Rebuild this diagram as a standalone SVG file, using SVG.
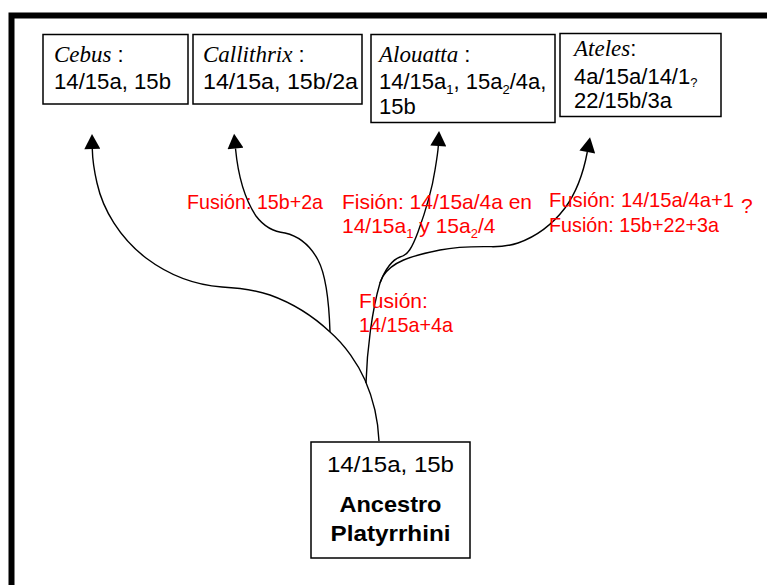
<svg xmlns="http://www.w3.org/2000/svg" width="767" height="585" viewBox="0 0 767 585">
<style>
.box{fill:#fff;stroke:#000;stroke-width:1.5}
.t{font-family:"Liberation Sans",Arial,sans-serif;font-size:22px;fill:#000}
.sp{font-family:"Liberation Serif","Times New Roman",serif;font-style:italic;font-size:23px}
.red{font-family:"Liberation Sans",Arial,sans-serif;font-size:21px;fill:#ff0000}
.sub{font-size:13px}
.b{font-weight:bold}
.edge{fill:none;stroke:#000;stroke-width:1.4}
</style>
<defs>
<marker id="arr" markerUnits="userSpaceOnUse" markerWidth="16" markerHeight="16" viewBox="0 0 14 15" refX="0" refY="7.5" orient="auto">
<path d="M0,0 L14,7.5 L0,15 z" fill="#000"/>
</marker>
</defs>
<rect width="767" height="585" fill="#fff"/>
<path d="M11.5,585 V15.5 H767" fill="none" stroke="#000" stroke-width="6"/>

<g id="connectors">
<path class="edge" marker-end="url(#arr)" d="M379,441 C378,418 372,396 365,380 C358,364 345,345 330,332 C313,316 295,304 270,295 C255,290 240,288 222,287 C195,285 170,276 146,258 C120,238 103,210 97,183 C94,170 92.5,160 92.3,149"/>
<path class="edge" marker-end="url(#arr)" d="M330,332 C329,300 326,275 318,260 C310,245 298,236 285,233 C275,232 265,228 256,216 C244,198 238,175 235.5,148.5"/>
<path class="edge" d="M366,383 C367,350 372,310 380,283 C381,280 382,278 383,276"/>
<path class="edge" marker-end="url(#arr)" d="M380,283 C385,270 392,260 400,257 C408,255 412,248 418,232 C426,210 432,190 435,170 C437,158 438,152 438.3,146"/>
<path class="edge" marker-end="url(#arr)" d="M383,276 C392,262 410,256 440,250 C460,246 480,246.5 493,246.7 C505,246.5 512,245 518,243 C535,237 552,225 565,208 C576,193 583,175 587.3,152"/>
</g>

<g id="cebus">
<rect class="box" x="43" y="34.5" width="145" height="69.5"/>
<text class="t" x="54" y="62"><tspan class="sp">Cebus</tspan> :</text>
<text class="t" x="54" y="89" textLength="117" lengthAdjust="spacingAndGlyphs">14/15a, 15b</text>
</g>

<g id="callithrix">
<rect class="box" x="193" y="34.5" width="169" height="69.5"/>
<text class="t" x="203" y="62"><tspan class="sp">Callithrix</tspan> :</text>
<text class="t" x="203" y="89" textLength="155" lengthAdjust="spacingAndGlyphs">14/15a, 15b/2a</text>
</g>

<g id="alouatta">
<rect class="box" x="371" y="34.5" width="184" height="88"/>
<text class="t" x="379" y="62"><tspan class="sp">Alouatta</tspan> :</text>
<text class="t" x="379" y="88.5">14/15a<tspan class="sub" fill="#000" dy="5">1</tspan><tspan dy="-5">, 15a</tspan><tspan class="sub" fill="#000" dy="5">2</tspan><tspan dy="-5">/4a,</tspan></text>
<text class="t" x="379" y="113.5">15b</text>
</g>

<g id="ateles">
<rect class="box" x="560" y="33.5" width="161" height="83"/>
<text class="t" x="574" y="56"><tspan class="sp">Ateles</tspan>:</text>
<text class="t" x="574" y="84">4a/15a/14/1<tspan class="sub" fill="#000" dy="3">?</tspan></text>
<text class="t" x="574" y="108">22/15b/3a</text>
</g>

<g id="ancestro">
<rect class="box" x="311" y="442" width="159" height="116"/>
<text class="t" x="390.5" y="472" text-anchor="middle" font-size="24" textLength="127" lengthAdjust="spacingAndGlyphs">14/15a, 15b</text>
<text class="t b" x="390.5" y="512" text-anchor="middle" textLength="102" lengthAdjust="spacingAndGlyphs">Ancestro</text>
<text class="t b" x="390.5" y="541" text-anchor="middle" textLength="120" lengthAdjust="spacingAndGlyphs">Platyrrhini</text>
</g>

<g id="labels">
<text class="red" x="187" y="209" textLength="136" lengthAdjust="spacingAndGlyphs">Fusión: 15b+2a</text>
<text class="red" x="342" y="209" textLength="190" lengthAdjust="spacingAndGlyphs">Fisión: 14/15a/4a en</text>
<text class="red" x="342" y="233">14/15a<tspan class="sub" fill="#ff0000" dy="5">1</tspan><tspan dy="-5"> y 15a</tspan><tspan class="sub" fill="#ff0000" dy="5">2</tspan><tspan dy="-5">/4</tspan></text>
<text class="red" x="359" y="308">Fusión:</text>
<text class="red" x="359" y="332" textLength="94" lengthAdjust="spacingAndGlyphs">14/15a+4a</text>
<text class="red" x="549" y="207" textLength="185" lengthAdjust="spacingAndGlyphs">Fusión: 14/15a/4a+1</text>
<text class="red" x="741" y="213" font-size="13">?</text>
<text class="red" x="549" y="232" textLength="170" lengthAdjust="spacingAndGlyphs">Fusión: 15b+22+3a</text>
</g>
</svg>
